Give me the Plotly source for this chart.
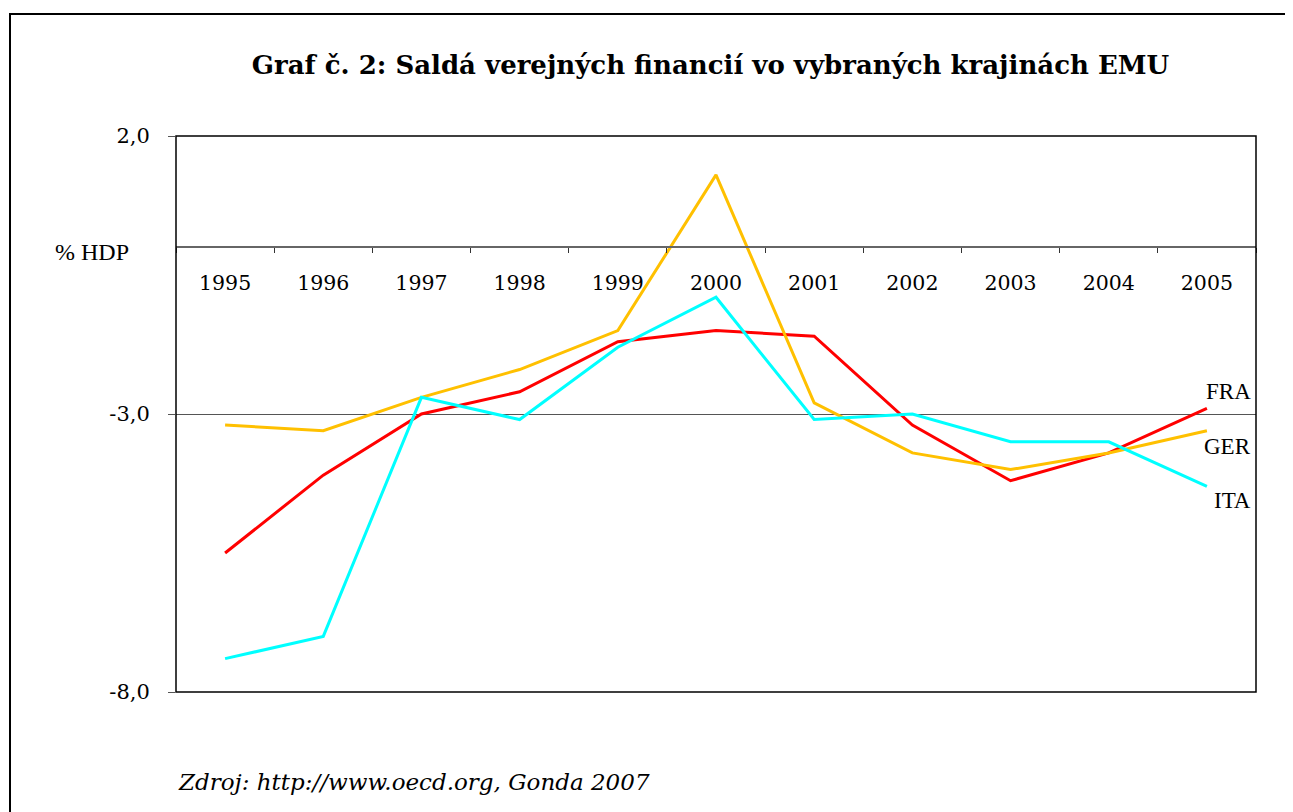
import plotly.graph_objects as go

years = ["1995", "1996", "1997", "1998", "1999", "2000", "2001", "2002", "2003", "2004", "2005"]
fra = [-5.5, -4.1, -3.0, -2.6, -1.7, -1.5, -1.6, -3.2, -4.2, -3.7, -2.9]
ger = [-3.2, -3.3, -2.7, -2.2, -1.5, 1.3, -2.8, -3.7, -4.0, -3.7, -3.3]
ita = [-7.4, -7.0, -2.7, -3.1, -1.8, -0.9, -3.1, -3.0, -3.5, -3.5, -4.3]

series = [
    ("FRA", fra, "#ff0000", -17),
    ("GER", ger, "#ffc000", 16),
    ("ITA", ita, "#00ffff", 14),
]
y_ticks = [2, -3, -8]
y_tick_text = ["2,0", "-3,0", "-8,0"]

serif = "DejaVu Serif"
times = "Liberation Serif"

fig = go.Figure()
for name, vals, color, _ in series:
    fig.add_trace(go.Scatter(
        x=years, y=vals, mode="lines", name=name,
        line=dict(color=color, width=3),
    ))

# series labels at the right edge, next to the last point
for name, vals, color, shift in series:
    fig.add_annotation(
        x=1, xref="paper", xanchor="right", xshift=-3,
        y=vals[-1], yshift=-shift, showarrow=False,
        text=name, font=dict(family=times, size=23, color="black"),
    )

fig.add_annotation(
    x=0, xref="paper", xanchor="right", xshift=-45,
    y=0, yshift=-5, showarrow=False,
    text="% HDP", font=dict(family=times, size=24, color="black"),
)
fig.add_annotation(
    x=0, xref="paper", xanchor="left", y=-0.162, yref="paper",
    yanchor="middle", showarrow=False,
    text="<i>Zdroj: http://www.oecd.org, Gonda 2007</i>",
    font=dict(family=serif, size=23, color="black"),
)

# plot frame and outer chart border
fig.add_shape(type="rect", xref="paper", yref="paper", x0=0, x1=1, y0=0, y1=1,
              line=dict(color="black", width=1.5))
fig.add_shape(type="rect", xref="paper", yref="paper",
              x0=-166 / 1080, x1=1.1, y0=-0.4, y1=1 + 122 / 556,
              line=dict(color="black", width=2), layer="below")

fig.update_layout(
    width=1293, height=812,
    margin=dict(l=168, r=45, t=128, b=128),
    paper_bgcolor="white", plot_bgcolor="white",
    showlegend=False,
    title=dict(
        text="<b>Graf č. 2: Saldá verejných financií vo vybraných krajinách EMU</b>",
        x=702.5 / 1293, xanchor="center", y=1 - 57 / 812, yanchor="middle",
        font=dict(family=serif, size=26, color="black"),
    ),
    font=dict(family=serif, color="black"),
)
fig.update_xaxes(
    type="category", anchor="free", position=0.8,
    showline=True, linecolor="#666666", linewidth=1.5,
    ticks="outside", tickson="boundaries", ticklen=5, tickcolor="#333333",
    ticklabelstandoff=17,
    tickfont=dict(family=serif, size=20.5), showgrid=False, zeroline=False,
    range=[-0.5, 10.5],
)
fig.update_yaxes(
    range=[-8, 2], tickvals=y_ticks, ticktext=y_tick_text,
    ticks="outside", ticklen=7, tickcolor="#555555",
    ticklabelstandoff=14,
    tickfont=dict(family=serif, size=21),
    showgrid=True, gridcolor="#555555", gridwidth=1, zeroline=False,
    showline=False,
)

fig.write_html("out.html")
